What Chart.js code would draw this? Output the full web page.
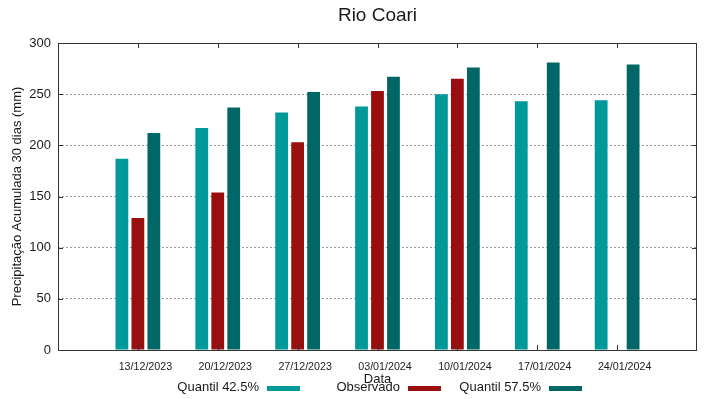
<!DOCTYPE html>
<html lang="pt-BR">
<head>
<meta charset="utf-8">
<title>Rio Coari</title>
<script src="https://cdn.jsdelivr.net/npm/chart.js@4"></script>
<style>
  html, body { margin: 0; padding: 0; background: #fff; }
  canvas { display: block; }
</style>
</head>
<body>
<canvas id="grafico" width="719" height="399"></canvas>
<script>
// Categorias (com uma posição vazia em cada ponta, como no gnuplot)
const categorias = ['', '13/12/2023', '20/12/2023', '27/12/2023', '03/01/2024', '10/01/2024', '17/01/2024', '24/01/2024', ''];
const quantil425 = [null, 187, 217, 232, 238, 250, 243, 244, null];
const observado = [null, 129, 154, 203, 253, 265, null, null, null];
const quantil575 = [null, 212, 237, 252, 267, 276, 281, 279, null];
const ticksY = [0, 50, 100, 150, 200, 250, 300];

const fonte = '"Liberation Sans", Arial, sans-serif';
const corTexto = '#1a1a1a';

const series = [
    { label: 'Quantil 42.5%', data: quantil425, cor: 'rgb(0, 153, 153)' },
    { label: 'Observado', data: observado, cor: 'rgb(153, 15, 15)' },
    { label: 'Quantil 57.5%', data: quantil575, cor: 'rgb(0, 102, 102)' }
];

// Moldura, marcas dos eixos, títulos e legenda no estilo gnuplot
const molduraPlugin = {
    id: 'moldura',
    afterDraw(chart) {
        const { ctx, chartArea: a, scales: { x, y } } = chart;
        ctx.save();
        ctx.strokeStyle = '#333';
        ctx.lineWidth = 1;
        ctx.strokeRect(a.left + 0.5, a.top + 0.5, a.right - a.left - 1, a.bottom - a.top);

        // marcas do eixo y (dentro, dos dois lados)
        ticksY.forEach(v => {
            const py = Math.round(y.getPixelForValue(v)) + 0.5;
            ctx.beginPath();
            ctx.moveTo(a.left, py); ctx.lineTo(a.left + 5, py);
            ctx.moveTo(a.right - 5, py); ctx.lineTo(a.right, py);
            ctx.stroke();
        });

        // marcas do eixo x (dentro, em cima e embaixo)
        categorias.forEach((c, i) => {
            if (!c) return;
            const px = Math.round(x.getPixelForValue(i)) + 0.5;
            ctx.beginPath();
            ctx.moveTo(px, a.top); ctx.lineTo(px, a.top + 5);
            ctx.moveTo(px, a.bottom - 5); ctx.lineTo(px, a.bottom);
            ctx.stroke();
        });

        const centroX = (a.left + a.right) / 2;
        ctx.fillStyle = corTexto;
        ctx.textAlign = 'center';
        ctx.textBaseline = 'middle';

        // título
        ctx.font = '19px ' + fonte;
        ctx.fillText('Rio Coari', centroX, 16);

        // título do eixo x
        ctx.font = '13px ' + fonte;
        ctx.fillText('Data', centroX, 379);

        // título do eixo y
        ctx.save();
        ctx.translate(17, (a.top + a.bottom) / 2);
        ctx.rotate(-Math.PI / 2);
        ctx.fillText('Precipitação Acumulada 30 dias (mm)', 0, 0);
        ctx.restore();

        // legenda: texto e depois a amostra de cor
        ctx.textAlign = 'right';
        series.forEach((s, i) => {
            const fimTexto = 259 + i * 141;
            ctx.fillStyle = corTexto;
            ctx.fillText(s.label, fimTexto, 387);
            ctx.fillStyle = s.cor;
            ctx.fillRect(fimTexto + 8, 386, 33, 5);
        });
        ctx.restore();
    }
};

new Chart(document.getElementById('grafico').getContext('2d'), {
    type: 'bar',
    data: {
        labels: categorias,
        datasets: series.map(s => ({
            label: s.label,
            data: s.data,
            backgroundColor: s.cor,
            borderWidth: 0,
            categoryPercentage: 0.6,
            barPercentage: 0.8
        }))
    },
    options: {
        responsive: false,
        animation: false,
        devicePixelRatio: 1,
        layout: { padding: { left: 0, top: 43, right: 22, bottom: 19 } },
        scales: {
            x: {
                offset: false,
                grid: { display: false, drawTicks: false },
                border: { display: false },
                ticks: {
                    autoSkip: false,
                    maxRotation: 0,
                    padding: 11,
                    labelOffset: 7.5,
                    color: corTexto,
                    font: { family: fonte, size: 10.7 }
                },
                afterFit: s => { s.height = 30; }
            },
            y: {
                min: 0,
                max: 300,
                grid: { color: '#9a9a9a', lineWidth: 1, drawTicks: false },
                border: { display: false, dash: [2, 2] },
                ticks: {
                    stepSize: 50,
                    padding: 7,
                    color: corTexto,
                    font: { family: fonte, size: 13 }
                },
                afterFit: s => { s.width = 58; }
            }
        },
        plugins: {
            legend: { display: false },
            title: { display: false },
            tooltip: { enabled: false }
        }
    },
    plugins: [molduraPlugin]
});
</script>
</body>
</html>
